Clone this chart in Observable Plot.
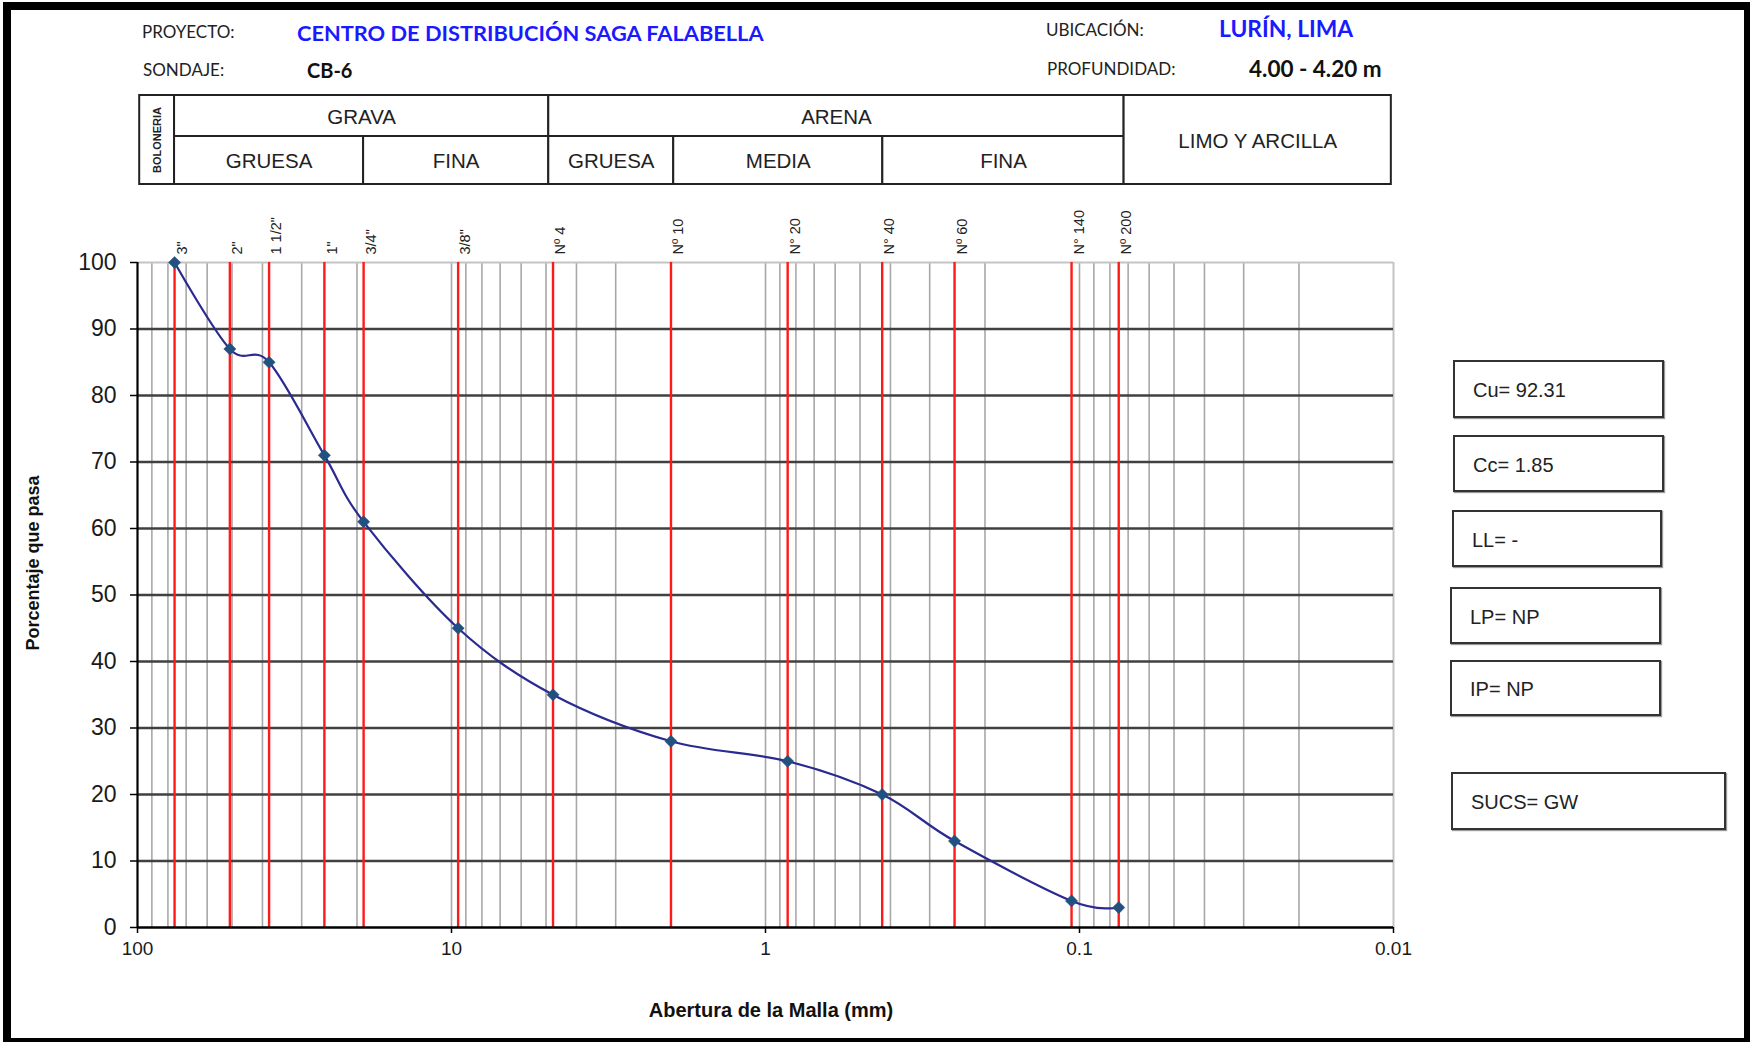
<!DOCTYPE html>
<html>
<head>
<meta charset="utf-8">
<script src="https://cdn.jsdelivr.net/npm/d3@7"></script>
<script src="https://cdn.jsdelivr.net/npm/@observablehq/plot@0.6"></script>
<style>
  html, body { margin: 0; padding: 0; background: #fff; }
  #page { position: relative; width: 1750px; height: 1042px; overflow: hidden; background: #fff;
          font-family: "Liberation Sans", Arial, sans-serif; color: #111; }
  #frame { position: absolute; left: 3px; top: 2px; width: 1747px; height: 1040px; box-sizing: border-box;
           border-left: 8px solid #000; border-top: 8px solid #000; border-right: 6px solid #000; border-bottom: 4px solid #000; }
  .hdr { position: absolute; font-family: Lato, "Open Sans", sans-serif; white-space: nowrap; transform: translateY(-50%); }
  .lab { font-size: 17px; color: #222; }
  .blue { font-weight: 700; color: #1a1aff; font-size: 21.8px; }
  .val { font-weight: 700; color: #111; font-size: 20px; }
  .box { position: absolute; box-sizing: border-box; border: 2px solid #333; box-shadow: 1px 1px 1px #999;
         display: flex; align-items: center; padding-left: 18px; padding-top: 3px; font-size: 20px; color: #222; background: #fff; }
  .axt { position: absolute; font-weight: 700; white-space: nowrap; color: #111; }
  .plotwrap { position: absolute; left: 0; }
</style>
</head>
<body>
<div id="page">
  <div id="frame"></div>
</div>
<script>
// ---------- data ----------
const sieveLabels = ['3"', '2"', '1 1/2"', '1"', '3/4"', '3/8"', 'Nº 4', 'Nº 10', 'N° 20', 'N° 40', 'Nº 60', 'N° 140', 'Nº 200'];
const sieveSizes = [76.2, 50.8, 38.1, 25.4, 19.05, 9.525, 4.75, 2.0, 0.85, 0.425, 0.25, 0.106, 0.075];
const percentPassing = [100, 87, 85, 71, 61, 45, 35, 28, 25, 20, 13, 4, 3];

const yTicks = [0, 10, 20, 30, 40, 50, 60, 70, 80, 90, 100];
const xTicks = [100, 10, 1, 0.1, 0.01];
const xTickLabels = ["100", "10", "1", "0.1", "0.01"];

// soil classification bands (header table), bounds in mm as drawn
const zoneLabels = ["GRAVA", "GRUESA", "FINA", "ARENA", "GRUESA", "MEDIA", "FINA", "LIMO Y ARCILLA"];
const zoneFrom   = [76.2, 76.2, 19.05, 4.9, 4.9, 1.96, 0.423, 0.0721];
const zoneTo     = [4.9, 19.05, 4.9, 0.0721, 1.96, 0.423, 0.0721, 0.01016];
const zoneRow0   = [0, 1, 1, 0, 1, 1, 1, 0];
const zoneRow1   = [1, 2, 2, 1, 2, 2, 2, 2];
const boulderLabel = ["BOLONERIA"];
const boulderFrom = [98.4];
const boulderTo = [76.2];

const headerLabels = ["PROYECTO:", "SONDAJE:", "UBICACIÓN:", "PROFUNDIDAD:"];
const headerValues = ["CENTRO DE DISTRIBUCIÓN SAGA FALABELLA", "CB-6", "LURÍN, LIMA", "4.00 - 4.20 m"];

const propLabels = ["Cu= 92.31", "Cc= 1.85", "LL= -", "LP= NP", "IP= NP", "SUCS= GW"];

const xTitle = "Abertura de la Malla (mm)";
const yTitle = "Porcentaje que pasa";

// ---------- layout ----------
const page = document.getElementById("page");
const W = 1750, ML = 137, MR = 357;
const xDomain = [100, 0.01];
const rowEdges = [0, 0.4607, 1]; // relative heights of the two table rows

function addDiv(cls, text, css) {
  const d = document.createElement("div");
  d.className = cls;
  d.textContent = text;
  Object.assign(d.style, css);
  page.appendChild(d);
  return d;
}

// header texts
addDiv("hdr lab", headerLabels[0], {left: "142px", top: "31px"});
addDiv("hdr blue", headerValues[0], {left: "297px", top: "32px"});
addDiv("hdr lab", headerLabels[1], {left: "143px", top: "69px"});
addDiv("hdr val", headerValues[1], {left: "307px", top: "70px"});
addDiv("hdr lab", headerLabels[2], {left: "1046px", top: "29px"});
addDiv("hdr blue", headerValues[2], {left: "1219px", top: "28px", fontSize: "22.8px"});
addDiv("hdr lab", headerLabels[3], {left: "1047px", top: "68px"});
addDiv("hdr val", headerValues[3], {left: "1249px", top: "68px", fontSize: "22.5px"});

// header table drawn with the same log x scale as the chart
const zi = zoneLabels.map((_, i) => i);
const table = Plot.plot({
  width: W, height: 100,
  marginLeft: ML, marginRight: MR, marginTop: 5, marginBottom: 6,
  x: {type: "log", domain: xDomain, axis: null},
  y: {type: "linear", domain: [0, 1], range: [5, 94], axis: null},
  style: {fontFamily: '"Liberation Sans", Arial, sans-serif', background: "transparent", overflow: "visible"},
  marks: [
    Plot.rect([0], {x1: boulderFrom, x2: boulderTo, y1: [rowEdges[0]], y2: [rowEdges[2]], fill: "white", stroke: "#222", strokeWidth: 2}),
    Plot.rect(zi, {x1: zoneFrom, x2: zoneTo, y1: zoneRow0.map(r => rowEdges[r]), y2: zoneRow1.map(r => rowEdges[r]), fill: "white", stroke: "#222", strokeWidth: 2}),
    Plot.text(zi, {
      x: zi.map(i => Math.sqrt(zoneFrom[i] * zoneTo[i])),
      y: zi.map(i => (rowEdges[zoneRow0[i]] + rowEdges[zoneRow1[i]]) / 2),
      text: zoneLabels, fontSize: 20.5, fill: "#222", dy: 1
    }),
    Plot.text([0], {
      x: [Math.sqrt(boulderFrom[0] * boulderTo[0])], y: [0.5],
      text: boulderLabel, rotate: -90, fontSize: 11, fontWeight: "bold", fill: "#222"
    })
  ]
});
const tw = document.createElement("div");
tw.className = "plotwrap";
tw.style.top = "90px";
tw.appendChild(table);
page.appendChild(tw);

// main chart
const idx = sieveSizes.map((_, i) => i);
const minorGrid = d3.scaleLog().domain([0.01, 100]).ticks().filter(v => v > 0.0100001 && v < 99.999);
const chart = Plot.plot({
  width: W, height: 777,
  marginLeft: ML, marginRight: MR, marginTop: 72, marginBottom: 40,
  x: {type: "log", domain: xDomain},
  y: {domain: [0, 100]},
  style: {fontFamily: '"Liberation Sans", Arial, sans-serif', fontSize: "20px", background: "transparent", overflow: "visible", color: "#111"},
  marks: [
    Plot.ruleX(minorGrid, {stroke: "#a8a8a8", strokeWidth: 1.6}),
    Plot.ruleX([xDomain[1]], {stroke: "#c4c4c4", strokeWidth: 2}),
    Plot.ruleY([yTicks[yTicks.length - 1]], {stroke: "#c4c4c4", strokeWidth: 2}),
    Plot.ruleY(yTicks.slice(1, -1), {stroke: "#404040", strokeWidth: 2.4}),
    Plot.ruleX(sieveSizes, {stroke: "#ff1a1a", strokeWidth: 2.4}),
    Plot.ruleX([xDomain[0]], {stroke: "#000", strokeWidth: 2.2}),
    Plot.ruleY([yTicks[0]], {stroke: "#000", strokeWidth: 2.4}),
    Plot.axisY(yTicks, {tickSize: 7, tickPadding: 14, label: null, fontSize: 23, strokeWidth: 1.5, stroke: "#000", fill: "#1a1a1a"}),
    Plot.axisX(xTicks, {tickSize: 6, tickPadding: 8, label: null, fontSize: 19, strokeWidth: 1.5, stroke: "#000", fill: "#1a1a1a",
      tickFormat: d => xTickLabels[xTicks.indexOf(d)]}),
    Plot.text(idx, {x: sieveSizes, frameAnchor: "top", text: sieveLabels, rotate: -90, textAnchor: "start", dy: -8, dx: 2, fontSize: 14.5, fill: "#222"}),
    Plot.line(idx, {x: sieveSizes, y: percentPassing, curve: "cardinal", tension: 0, stroke: "#2a2a90", strokeWidth: 2.2}),
    Plot.dot(idx, {x: sieveSizes, y: percentPassing, symbol: "diamond2", r: 5.5, fill: "#22507f", stroke: "#22507f", strokeWidth: 0.5})
  ]
});
const cw = document.createElement("div");
cw.className = "plotwrap";
cw.style.top = "190px";
cw.appendChild(chart);
page.appendChild(cw);

// axis titles
addDiv("axt", yTitle, {left: "33px", top: "563px", fontSize: "18px", transform: "translate(-50%,-50%) rotate(-90deg)"});
addDiv("axt", xTitle, {left: "771px", top: "1010px", fontSize: "20px", transform: "translate(-50%,-50%)"});

// property boxes
const boxPos = [[1453, 360, 211, 58], [1453, 435, 211, 57], [1452, 510, 210, 57], [1450, 587, 211, 57], [1450, 660, 211, 56], [1451, 772, 275, 58]];
propLabels.forEach((t, i) => {
  const [l, tp, w, h] = boxPos[i];
  addDiv("box", t, {left: l + "px", top: tp + "px", width: w + "px", height: h + "px"});
});
</script>
</body>
</html>
